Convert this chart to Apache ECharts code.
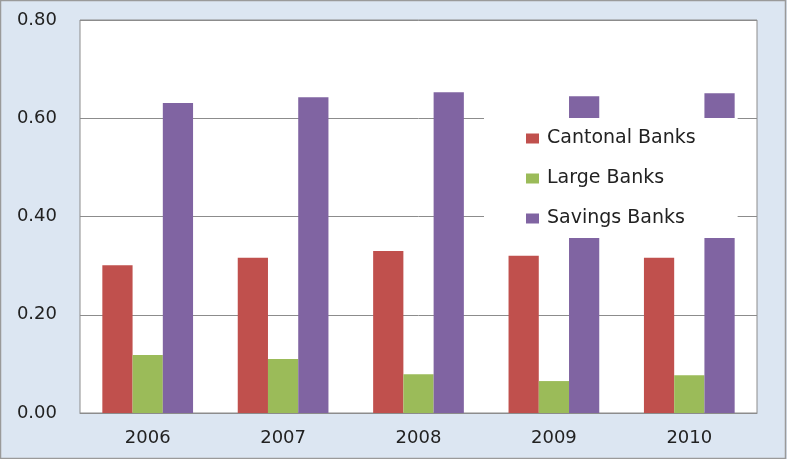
<!DOCTYPE html>
<html><head><meta charset="utf-8">
<script src="https://cdn.jsdelivr.net/npm/echarts@6/dist/echarts.min.js"></script>
<style>html,body{margin:0;padding:0;background:#dce6f2;}#c{width:787px;height:459px;}</style>
</head><body><div id="c"></div>
<script>
const categories = ['2006','2007','2008','2009','2010'];
const cantonal = [0.301, 0.316, 0.330, 0.320, 0.316];
const large = [0.118, 0.110, 0.079, 0.065, 0.077];
const savings = [0.631, 0.643, 0.653, 0.645, 0.651];
const seriesNames = ['Cantonal Banks','Large Banks','Savings Banks'];
const colors = ['#c0504d','#9bbb59','#8064a2'];
const font = 'DejaVu Sans, sans-serif';
const chart = echarts.init(document.getElementById('c'));
chart.setOption({
  backgroundColor: '#dce6f2',
  animation: false,
  color: colors,
  graphic: [{type:'rect', shape:{x:0.5,y:0.5,width:785,height:458}, style:{fill:'none', stroke:'#9a9a9a', lineWidth:1.5}, z:-1}],
  grid: {left:80, right:30, top:20, bottom:46, show:true, backgroundColor:'#ffffff', borderColor:'#8c8c8c', borderWidth:1},
  legend: {
    orient:'vertical', left:484, top:118, backgroundColor:'#ffffff',
    padding:[11,42,10,42], itemGap:21, itemWidth:13, itemHeight:10,
    icon:'rect',
    textStyle:{fontSize:19, color:'#222', fontFamily:font, padding:[0,0,0,3]},
    data: seriesNames
  },
  xAxis: {type:'category', data:categories,
    axisLine:{lineStyle:{color:'#8c8c8c'}}, axisTick:{show:false},
    axisLabel:{fontSize:18, color:'#222', fontFamily:font, margin:16}},
  yAxis: {type:'value', min:0, max:0.8, interval:0.2,
    axisLine:{show:false}, axisTick:{show:false},
    splitLine:{lineStyle:{color:'#8c8c8c'}},
    axisLabel:{fontSize:18, color:'#222', fontFamily:font, margin:23, formatter:v=>v.toFixed(2)}},
  series: [
    {name:seriesNames[0], type:'bar', data:cantonal, barGap:'0%', barCategoryGap:'33%'},
    {name:seriesNames[1], type:'bar', data:large, barGap:'0%', barCategoryGap:'33%'},
    {name:seriesNames[2], type:'bar', data:savings, barGap:'0%', barCategoryGap:'33%'}
  ]
});
</script></body></html>
